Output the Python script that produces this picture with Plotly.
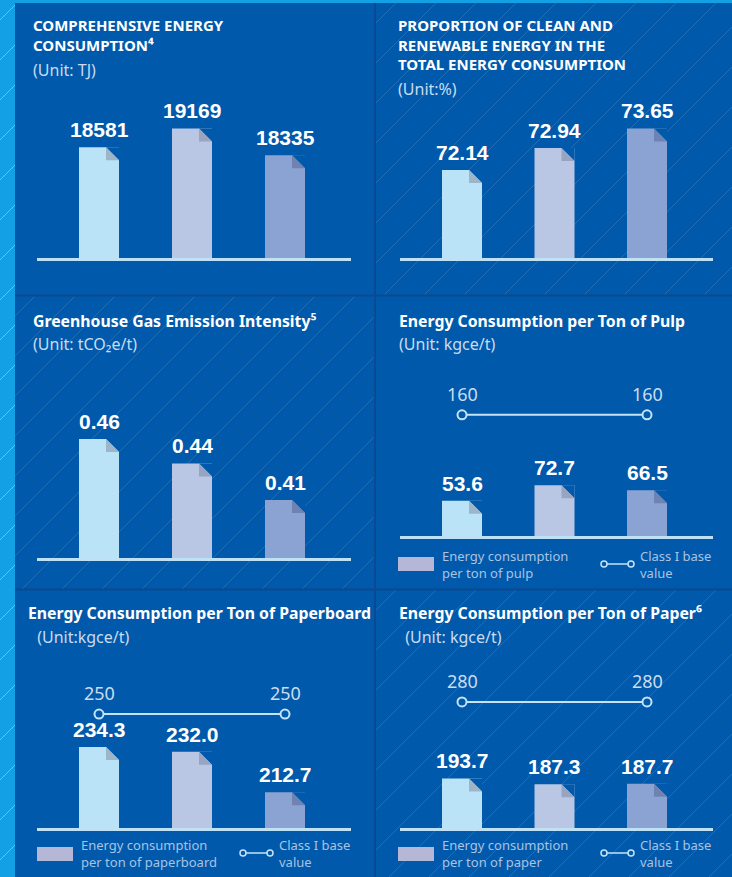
import plotly.graph_objects as go

# ---------------- data ----------------
categories = ["2021", "2022", "2023"]
energy_tj = [18581, 19169, 18335]
clean_share_pct = [72.14, 72.94, 73.65]
ghg_intensity = [0.46, 0.44, 0.41]
pulp_kgce = [53.6, 72.7, 66.5]
pulp_base = 160
board_kgce = [234.3, 232.0, 212.7]
board_base = 250
paper_kgce = [193.7, 187.3, 187.7]
paper_base = 280

# ---------------- style ----------------
W, H = 732, 877
PANEL = "#0059ab"
STRIP = "#13a0e4"
DIVIDER = "#0b4a92"
BAR_COLORS = ["#bae3f8", "#b9c7e5", "#8ba3d3"]
FOLD_COLORS = ["#9db5c9", "#99a4c1", "#6e83b1"]
LIGHT = "#c5e3f7"
UNIT_COLOR = "#c9dcf0"
LEGEND_TXT = "#a9c3e3"
TITLE_FONT = "Noto Sans"
NUM_FONT = "Liberation Sans"


def px(x):
    return x / W


def py(y):
    return 1 - y / H


LEFT = dict(ax0=37, ax1=351, c0=99, step=93)
RIGHT = dict(ax0=400, ax1=713, c0=462, step=92.5)

panels = [
    dict(vals=energy_tj, fmt="{:.0f}", col=LEFT, base_px=258, top_px=100, yr=(15122, 20059), base=None),
    dict(vals=clean_share_pct, fmt="{:.2f}", col=RIGHT, base_px=258, top_px=100, yr=(68.94, 74.685), base=None),
    dict(vals=ghg_intensity, fmt="{:.2f}", col=LEFT, base_px=558, top_px=400, yr=(0.3625, 0.492), base=None),
    dict(vals=pulp_kgce, fmt="{:.1f}", col=RIGHT, base_px=536, top_px=380, yr=(9.8, 203.1), base=pulp_base),
    dict(vals=board_kgce, fmt="{:.1f}", col=LEFT, base_px=828, top_px=680, yr=(195.73, 266.2), base=board_base),
    dict(vals=paper_kgce, fmt="{:.1f}", col=RIGHT, base_px=828, top_px=680, yr=(137.8, 304.8), base=paper_base),
]

fig = go.Figure()
annotations = []
shapes = []
layout_axes = {}

xpos = list(range(len(categories)))

for k, p in enumerate(panels, start=1):
    xa = "x" if k == 1 else f"x{k}"
    ya = "y" if k == 1 else f"y{k}"
    col = p["col"]
    step = col["step"]
    ymin, ymax = p["yr"]
    ppu = (p["base_px"] - p["top_px"]) / (ymax - ymin)
    half = 20 / step
    cx = 13 / step
    cy = 13 / ppu

    fig.add_trace(go.Bar(
        x=xpos, y=p["vals"], width=2 * half,
        marker=dict(color=BAR_COLORS, line=dict(width=0)),
        xaxis=xa, yaxis=ya, hoverinfo="skip", showlegend=False,
    ))
    for i, v in enumerate(p["vals"]):
        x1 = i + half
        fig.add_trace(go.Scatter(
            x=[x1 - cx, x1, x1, x1 - cx], y=[v, v, v - cy, v],
            fill="toself", fillcolor=PANEL, mode="lines",
            line=dict(width=0, color=PANEL), xaxis=xa, yaxis=ya,
            hoverinfo="skip", showlegend=False,
        ))
        fig.add_trace(go.Scatter(
            x=[x1 - cx, x1 - cx, x1, x1 - cx], y=[v, v - cy, v - cy, v],
            fill="toself", fillcolor=FOLD_COLORS[i], mode="lines",
            line=dict(width=0, color=FOLD_COLORS[i]), xaxis=xa, yaxis=ya,
            hoverinfo="skip", showlegend=False,
        ))
        annotations.append(dict(
            x=i, y=v, xref=xa, yref=ya, text="<b>" + p["fmt"].format(v) + "</b>",
            showarrow=False, yanchor="middle", yshift=17.5,
            font=dict(family=NUM_FONT, size=21, color="white"),
        ))
    if p["base"] is not None:
        bx = [xpos[0], xpos[-1]]
        fig.add_trace(go.Scatter(
            x=bx, y=[p["base"], p["base"]], mode="lines+markers",
            line=dict(color=LIGHT, width=2),
            marker=dict(symbol="circle", size=9, color=PANEL, line=dict(color=LIGHT, width=2)),
            xaxis=xa, yaxis=ya, hoverinfo="skip", showlegend=False, cliponaxis=False,
        ))
        for xx in bx:
            annotations.append(dict(
                x=xx, y=p["base"], xref=xa, yref=ya, text=str(p["base"]),
                showarrow=False, yanchor="middle", yshift=21,
                font=dict(family=TITLE_FONT, size=18, color=UNIT_COLOR),
            ))

    xkey = "xaxis" if k == 1 else f"xaxis{k}"
    ykey = "yaxis" if k == 1 else f"yaxis{k}"
    layout_axes[xkey] = dict(
        domain=[px(col["ax0"]), px(col["ax1"])],
        range=[(col["ax0"] - col["c0"]) / step, (col["ax1"] - col["c0"]) / step],
        anchor=ya, showgrid=False, zeroline=False, showticklabels=False, ticks="",
        tickvals=xpos, ticktext=categories,
        showline=True, linecolor="#bfe1f6", linewidth=3, fixedrange=True,
    )
    layout_axes[ykey] = dict(
        domain=[py(p["base_px"]), py(p["top_px"])], range=[ymin, ymax],
        anchor=xa, visible=False, fixedrange=True,
    )

# ---------------- background decoration ----------------
shapes.append(dict(type="rect", xref="paper", yref="paper", x0=0, x1=px(15), y0=0, y1=1,
                   fillcolor=STRIP, line=dict(width=0), layer="below"))
shapes.append(dict(type="rect", xref="paper", yref="paper", x0=0, x1=1, y0=py(3), y1=1,
                   fillcolor=STRIP, line=dict(width=0), layer="below"))


def stripes(X0, Y0, X1, Y1, spacing=40, color="rgba(255,255,255,0.13)"):
    k = X0 + Y0 + spacing / 2
    while k < X1 + Y1:
        ylo = min(Y1, k - X0)
        xlo = k - ylo
        yhi = max(Y0, k - X1)
        xhi = k - yhi
        if ylo > yhi:
            shapes.append(dict(type="line", xref="paper", yref="paper",
                               x0=px(xlo), y0=py(ylo), x1=px(xhi), y1=py(yhi),
                               line=dict(color=color, width=1), layer="below"))
        k += spacing


stripes(0, 0, 15, 877, spacing=40, color="rgba(255,255,255,0.35)")
stripes(376, 3, 732, 295)
stripes(15, 296, 375, 589)
stripes(376, 590, 732, 877)

for (x0, y0, x1, y1) in [(375, 3, 375, 877), (15, 295.5, 732, 295.5), (15, 589.5, 732, 589.5)]:
    shapes.append(dict(type="line", xref="paper", yref="paper", x0=px(x0), y0=py(y0),
                       x1=px(x1), y1=py(y1), line=dict(color=DIVIDER, width=2), layer="below"))


# ---------------- titles ----------------
def text(x, y, s, size, color, family=TITLE_FONT):
    annotations.append(dict(x=px(x), y=py(y), xref="paper", yref="paper", text=s,
                            showarrow=False, xanchor="left", yanchor="middle", align="left",
                            font=dict(family=family, size=size, color=color)))


TU = 15     # upper-case title size
TM = 15.8   # mixed-case title size
US = 16     # unit size

text(31, 35.5, "<b>COMPREHENSIVE ENERGY<br>CONSUMPTION⁴</b>", TU, "white")
text(31, 70, "(Unit: TJ)", US, UNIT_COLOR)

text(396, 45, "<b>PROPORTION OF CLEAN AND<br>RENEWABLE ENERGY IN THE<br>TOTAL ENERGY CONSUMPTION</b>", TU, "white")
text(396, 89, "(Unit:%)", US, UNIT_COLOR)

text(31, 321, "<b>Greenhouse Gas Emission Intensity⁵</b>", TM, "white")
text(31, 344, "(Unit: tCO₂e/t)", US, UNIT_COLOR)

text(397, 321, "<b>Energy Consumption per Ton of Pulp</b>", TM, "white")
text(397, 344, "(Unit: kgce/t)", US, UNIT_COLOR)

text(26, 613, "<b>Energy Consumption per Ton of Paperboard</b>", TM, "white")
text(31, 637, " (Unit:kgce/t)", US, UNIT_COLOR)

text(397, 613, "<b>Energy Consumption per Ton of Paper⁶</b>", TM, "white")
text(399, 637, " (Unit: kgce/t)", US, UNIT_COLOR)


# ---------------- custom legends ----------------
LS = 13


def legend(rx0, ry0, label2, icon_x0, y_mid):
    shapes.append(dict(type="rect", xref="paper", yref="paper", x0=px(rx0), x1=px(rx0 + 36),
                       y0=py(ry0 + 14), y1=py(ry0), fillcolor="#b5b7d7", line=dict(width=0)))
    text(rx0 + 42, y_mid, "Energy consumption<br>" + label2, LS, LEGEND_TXT)
    shapes.append(dict(type="line", xref="paper", yref="paper", x0=px(icon_x0), x1=px(icon_x0 + 27),
                       y0=py(y_mid), y1=py(y_mid), line=dict(color=LIGHT, width=1.5)))
    for cxp in (icon_x0, icon_x0 + 27):
        shapes.append(dict(type="circle", xref="paper", yref="paper", x0=px(cxp - 3), x1=px(cxp + 3),
                           y0=py(y_mid + 3), y1=py(y_mid - 3), fillcolor=PANEL,
                           line=dict(color=LIGHT, width=1.5)))
    text(icon_x0 + 34, y_mid, "Class I base<br>value", LS, LEGEND_TXT)


legend(398, 557, "per ton of pulp", 604, 564)
legend(37, 847, "per ton of paperboard", 243, 853)
legend(398, 847, "per ton of paper", 604, 853)

fig.update_layout(
    width=W, height=H, margin=dict(l=0, r=0, t=0, b=0),
    paper_bgcolor=PANEL, plot_bgcolor="rgba(0,0,0,0)",
    showlegend=False, barmode="overlay",
    annotations=annotations, shapes=shapes, **layout_axes,
)

fig.write_html(
    "out.html",
    config={"displayModeBar": False},
    post_script="document.body.style.margin='0';document.body.style.overflow='hidden';",
)
